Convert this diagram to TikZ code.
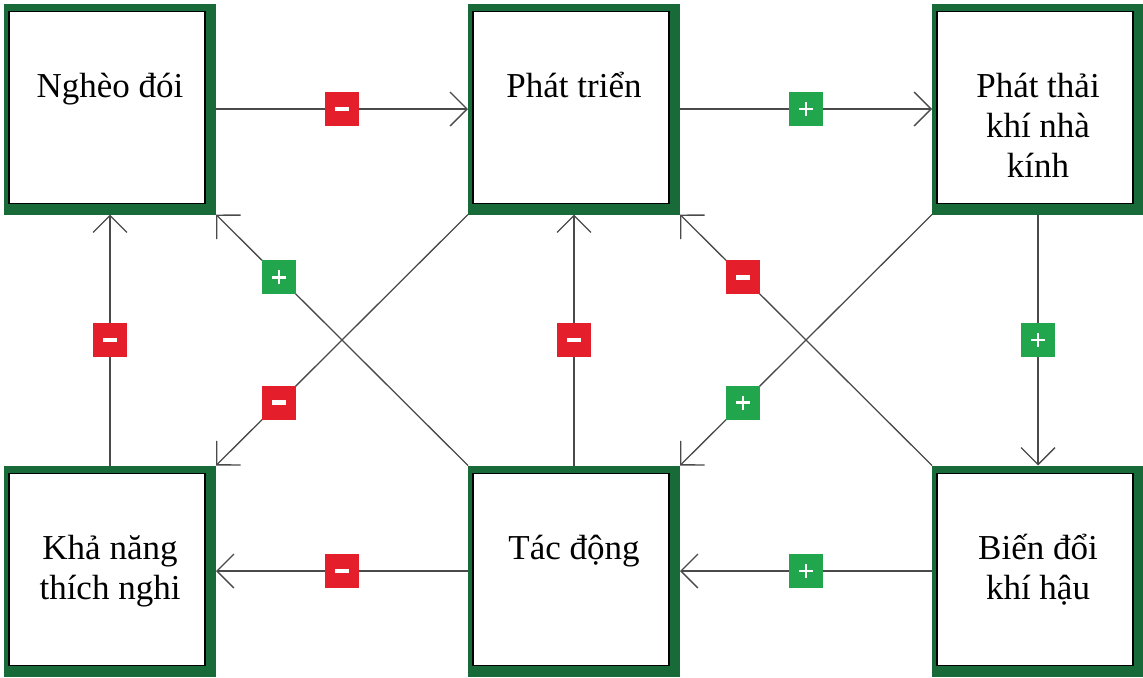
\documentclass[tikz,border=0pt]{standalone}
\usepackage{fontspec}
\setmainfont{Liberation Serif}
\usetikzlibrary{arrows.meta}
\definecolor{framegreen}{HTML}{186A38}
\definecolor{signred}{HTML}{E41E2A}
\definecolor{signgreen}{HTML}{21A64E}
\definecolor{linkgray}{HTML}{4A4A4A}
\newcommand\boxlabel[1]{\parbox[c][105.5pt][t]{104pt}{\fontsize{17.5}{20}\selectfont\centering\vspace*{33pt}\strut #1}}
\tikzset{
  kbox/.style={rectangle, fill=framegreen, minimum width=106pt, minimum height=105.5pt,
    inner sep=0pt, outer sep=0pt,
    path picture={\draw[black, line width=0.8pt, fill=white]
      ([shift={(2.5pt,-4pt)}]path picture bounding box.north west) rectangle
      ([shift={(-5.5pt,5.5pt)}]path picture bounding box.south east);}},
  link/.style={draw=linkgray, line width=0.65pt, -{Straight Barb[length=8.5pt, width=17pt]}},
  sign/.style={rectangle, minimum size=17pt, inner sep=0pt},
  signminus/.style={sign, fill=signred,
    path picture={\fill[white] ([shift={(-3.5pt,-1.2pt)}]path picture bounding box.center) rectangle ++(7pt,2.4pt);}},
  signplus/.style={sign, fill=signgreen,
    path picture={\draw[white, line width=1.4pt, -]
      ([xshift=-3.5pt]path picture bounding box.center) -- ++(7pt,0)
      ([yshift=-3.5pt]path picture bounding box.center) -- ++(0,7pt);}}
}
\begin{document}
\begin{tikzpicture}[x=0.5pt, y=-0.5pt]
  \useasboundingbox (0,0) rectangle (1143,677);
  \fill[white] (0,0) rectangle (1143,677);
  % boxes
  \node[kbox] (ngheo) at (110,109) {\boxlabel{Nghèo đói}};
  \node[kbox] (phattrien) at (574,109) {\boxlabel{Phát triển}};
  \node[kbox] (phatthai) at (1038,109) {\boxlabel{Phát thải\\khí nhà\\kính}};
  \node[kbox] (khanang) at (110,571) {\boxlabel{Khả năng\\thích nghi}};
  \node[kbox] (tacdong) at (574,571) {\boxlabel{Tác động}};
  \node[kbox] (bdkh) at (1038,571) {\boxlabel{Biến đổi\\khí hậu}};
  % straight links
  \draw[link] (ngheo) -- node[signminus] (s1) {} (phattrien);
  \draw[link] (phattrien) -- node[signplus] (s2) {} (phatthai);
  \draw[link] (phatthai) -- node[signplus] (s3) {} (bdkh);
  \draw[link] (bdkh) -- node[signplus] (s4) {} (tacdong);
  \draw[link] (tacdong) -- node[signminus] (s5) {} (khanang);
  \draw[link] (khanang) -- node[signminus] (s6) {} (ngheo);
  \draw[link] (tacdong) -- node[signminus] (s7) {} (phattrien);
  % diagonal links
  \draw[link] (tacdong.north west) -- node[signplus, pos=0.75] (s8) {} (ngheo.south east);
  \draw[link] (phattrien.south west) -- node[signminus, pos=0.75] (s9) {} (khanang.north east);
  \draw[link] (bdkh.north west) -- node[signminus, pos=0.75] (s10) {} (phattrien.south east);
  \draw[link] (phatthai.south west) -- node[signplus, pos=0.75] (s11) {} (tacdong.north east);
\end{tikzpicture}
\end{document}
